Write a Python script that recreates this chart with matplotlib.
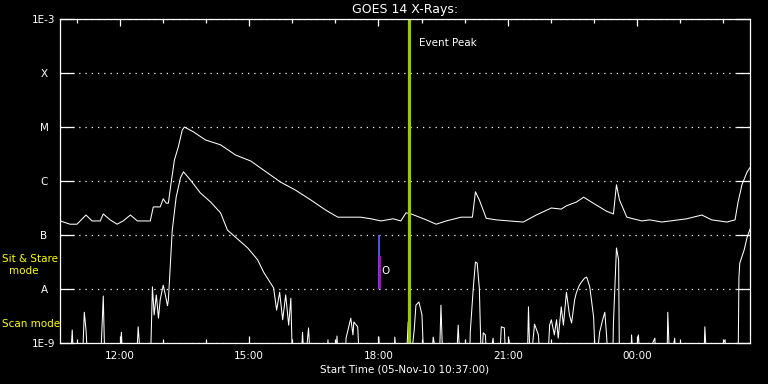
import numpy as np
import matplotlib
matplotlib.use('Agg')
import matplotlib.pyplot as plt

# time in hours of 05-Nov-10 (values past 24 are on 06-Nov), flux as log10(W/m^2)
start_hr = 10 + 37 / 60
end_hr = start_hr + 16

long_hr = [10.62, 10.85, 11.01, 11.22, 11.36, 11.55, 11.62, 11.78, 11.94, 12.08,
           12.25, 12.41, 12.71, 12.78, 12.94, 13.01, 13.08, 13.13, 13.18, 13.27,
           13.36, 13.45, 13.50, 13.71, 13.99, 14.34, 14.69, 15.04, 15.27, 15.73,
           16.08, 16.43, 16.78, 17.06, 17.59, 17.83, 18.06, 18.34, 18.52, 18.64,
           18.76, 19.11, 19.34, 19.57, 19.92, 20.18, 20.25, 20.34, 20.50, 20.73,
           21.36, 21.66, 22.01, 22.24, 22.36, 22.59, 22.76, 22.94, 23.29, 23.45,
           23.52, 23.59, 23.76, 24.11, 24.29, 24.57, 25.15, 25.50, 25.73, 26.08,
           26.27, 26.34, 26.43, 26.55, 26.66]
long_log = [-6.74, -6.80, -6.80, -6.63, -6.74, -6.74, -6.61, -6.72, -6.80, -6.74,
            -6.63, -6.74, -6.74, -6.48, -6.48, -6.33, -6.41, -6.41, -6.11, -5.61,
            -5.37, -5.06, -5.00, -5.09, -5.24, -5.33, -5.52, -5.63, -5.76, -6.02,
            -6.17, -6.35, -6.54, -6.67, -6.67, -6.70, -6.74, -6.70, -6.74, -6.59,
            -6.61, -6.72, -6.80, -6.74, -6.67, -6.67, -6.20, -6.35, -6.69, -6.72,
            -6.76, -6.63, -6.50, -6.52, -6.46, -6.39, -6.30, -6.39, -6.56, -6.61,
            -6.07, -6.35, -6.67, -6.74, -6.72, -6.76, -6.70, -6.63, -6.72, -6.76,
            -6.72, -6.39, -6.07, -5.83, -5.70]

# -9.5 means below the plotted range
short_hr = [10.62, 10.85, 10.90, 10.94, 11.13, 11.18, 11.22, 11.27, 11.55, 11.62,
            11.66, 11.99, 12.04, 12.08, 12.38, 12.43, 12.50, 12.71, 12.76, 12.80,
            12.85, 12.90, 12.94, 13.01, 13.06, 13.11, 13.13, 13.22, 13.31, 13.41,
            13.48, 13.64, 13.87, 14.11, 14.34, 14.50, 14.97, 15.20, 15.34, 15.57,
            15.64, 15.71, 15.78, 15.85, 15.92, 15.97, 16.01, 16.20, 16.24, 16.29,
            16.38, 16.43, 16.80, 16.83, 16.87, 16.99, 17.04, 17.08, 17.22, 17.25,
            17.36, 17.41, 17.43, 17.52, 17.57, 17.99, 18.01, 18.04, 18.36, 18.38,
            18.45, 18.64, 18.69, 18.73, 18.83, 18.87, 18.94, 19.01, 19.06, 19.22,
            19.27, 19.41, 19.45, 19.50, 19.80, 19.85, 19.90, 20.11, 20.13, 20.20,
            20.25, 20.29, 20.34, 20.39, 20.43, 20.48, 20.53, 20.66, 20.71, 20.80,
            20.85, 20.92, 20.96, 21.03, 21.08, 21.45, 21.48, 21.52, 21.62, 21.71,
            21.76, 21.92, 21.97, 22.01, 22.08, 22.13, 22.17, 22.24, 22.29, 22.36,
            22.43, 22.48, 22.55, 22.59, 22.66, 22.71, 22.78, 22.83, 22.90, 22.94,
            22.99, 23.04, 23.13, 23.20, 23.25, 23.29, 23.34, 23.43, 23.45, 23.50,
            23.52, 23.57, 23.59, 23.85, 23.87, 23.92, 24.03, 24.08, 24.41, 24.45,
            24.69, 24.71, 24.76, 24.87, 24.92, 25.54, 25.57, 25.62, 26.04, 26.08,
            26.34, 26.36, 26.38, 26.48, 26.55, 26.66]
short_log = [-9.5, -9.5, -8.76, -9.5, -9.5, -8.43, -8.76, -9.5, -9.5, -8.13,
             -9.5, -9.5, -8.80, -9.5, -9.5, -8.70, -9.5, -9.5, -7.96, -8.48,
             -8.11, -8.54, -8.20, -7.93, -8.11, -8.31, -8.20, -6.91, -6.30, -5.94,
             -5.83, -5.98, -6.22, -6.39, -6.59, -6.91, -7.24, -7.46, -7.69, -7.98,
             -8.39, -8.06, -8.57, -8.11, -8.67, -8.17, -9.5, -9.5, -8.80, -9.5,
             -8.72, -9.5, -9.5, -8.94, -9.5, -9.5, -8.87, -9.5, -9.5, -8.91,
             -8.54, -8.85, -8.61, -8.70, -9.5, -9.5, -8.89, -9.5, -9.5, -8.89,
             -9.5, -9.5, -8.61, -9.5, -8.76, -8.30, -8.24, -8.48, -9.5, -9.5,
             -8.89, -9.5, -8.30, -9.5, -9.5, -8.67, -9.5, -9.5, -8.80, -7.98,
             -7.50, -7.52, -7.98, -9.5, -8.81, -8.85, -9.5, -8.91, -9.5, -9.5,
             -8.70, -8.72, -9.5, -8.94, -9.5, -9.5, -8.33, -9.5, -8.65, -8.85,
             -9.5, -9.5, -8.67, -8.57, -8.85, -8.57, -8.91, -8.33, -8.67, -8.06,
             -8.48, -8.63, -8.20, -8.07, -7.93, -7.87, -7.80, -7.78, -7.96, -8.20,
             -8.52, -9.5, -8.80, -8.57, -8.43, -8.85, -9.5, -9.5, -8.63, -7.65,
             -7.24, -7.46, -9.5, -9.5, -8.85, -9.5, -8.85, -9.5, -8.91, -9.5,
             -9.5, -8.43, -9.5, -8.91, -9.5, -9.5, -8.70, -9.5, -8.94, -9.5,
             -9.5, -7.78, -7.52, -7.28, -7.04, -6.80]

flux_levels = [1e-9, 1e-8, 1e-7, 1e-6, 1e-5, 1e-4, 1e-3]
flux_labels = ['1E-9', 'A', 'B', 'C', 'M', 'X', '1E-3']
hour_ticks = [12, 15, 18, 21, 24]
hour_labels = ['12:00', '15:00', '18:00', '21:00', '00:00']

peak_hr = 18.71
obs_hr = 18.01
obs_blue = (1e-8, 1e-7)
obs_mag = (1e-8, 10 ** -7.39)

plt.rcParams['font.family'] = 'DejaVu Sans'
fig = plt.figure(figsize=(7.68, 3.84), dpi=100, facecolor='black')
ax = fig.add_axes([60 / 768, 41 / 384, 690 / 768, 324 / 384], facecolor='black')

ax.set_yscale('log')
ax.set_ylim(1e-9, 1e-3)
ax.set_xlim(start_hr, end_hr)

ax.plot(long_hr, 10 ** np.array(long_log), color='white', lw=0.75)
ax.plot(short_hr, 10 ** np.array(short_log), color='white', lw=0.75)

ax.axvline(peak_hr, color='#99cc00', lw=2.3)
ax.text(peak_hr + 0.23, 10 ** -3.45, 'Event Peak', color='white', fontsize=7.5,
        va='center', ha='left')

ax.vlines(obs_hr, *obs_blue, color='#5a5aff', lw=1.3)
ax.vlines(obs_hr + 0.035, *obs_mag, color='#cc00cc', lw=1.3)
ax.text(obs_hr + 0.06, 10 ** -7.67, 'O', color='white', fontsize=7.5,
        va='center', ha='left')

# axes styling
for sp in ax.spines.values():
    sp.set_color('white')
    sp.set_linewidth(0.9)
ax.yaxis.set_minor_locator(matplotlib.ticker.NullLocator())
ax.set_yticks(flux_levels)
ax.set_yticklabels(flux_labels)
ax.tick_params(axis='y', which='major', direction='in', length=10, width=0.9,
               color='white', labelcolor='white', labelsize=7.5, left=True,
               right=True, pad=11.5)
for lbl in ax.get_yticklabels():
    lbl.set_horizontalalignment('center')

ax.set_xticks(hour_ticks)
ax.set_xticklabels(hour_labels)
ax.set_xticks(np.arange(11, 27), minor=True)
ax.tick_params(axis='x', which='major', direction='in', length=5, width=0.9,
               color='white', labelcolor='white', labelsize=7.5, top=True,
               bottom=True, pad=6)
ax.tick_params(axis='x', which='minor', direction='in', length=3, width=0.9,
               color='white', top=True, bottom=True)

ax.grid(True, axis='y', which='major', color='white', lw=0.9,
        linestyle=(0, (1, 4)))
ax.set_axisbelow(True)

fig.text(405 / 768, 1 - 10 / 384, 'GOES 14 X-Rays:', color='white', fontsize=9,
         ha='center', va='center')
fig.text(405 / 768, 1 - 369 / 384, 'Start Time (05-Nov-10 10:37:00)', color='white',
         fontsize=7.5, ha='center', va='center')
fig.text(2 / 768, 1 - 259 / 384, 'Sit & Stare', color='yellow', fontsize=7.5,
         ha='left', va='center')
fig.text(24 / 768, 1 - 271 / 384, 'mode', color='yellow', fontsize=7.5,
         ha='center', va='center')
fig.text(2 / 768, 1 - 324 / 384, 'Scan mode', color='yellow', fontsize=7.5,
         ha='left', va='center')

fig.savefig('out.png', dpi=100, facecolor='black')
